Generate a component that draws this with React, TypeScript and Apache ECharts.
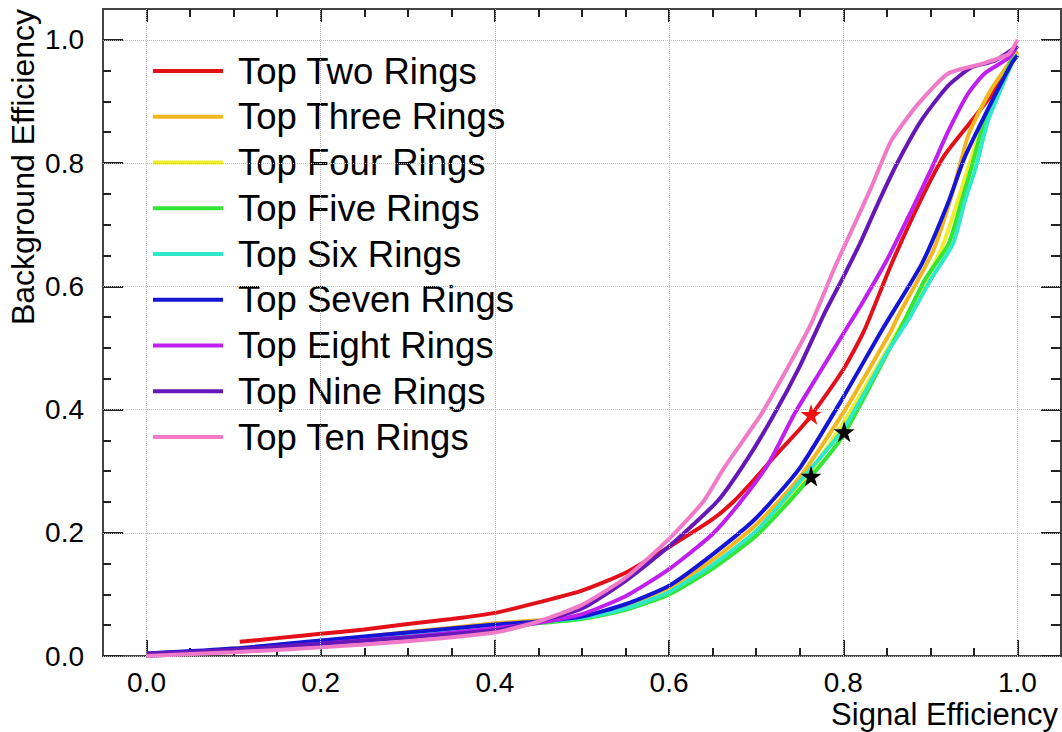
import React, { useEffect, useRef } from "react";
import * as echarts from "echarts";

const seriesNames = [
  "Top Two Rings",
  "Top Three Rings",
  "Top Four Rings",
  "Top Five Rings",
  "Top Six Rings",
  "Top Seven Rings",
  "Top Eight Rings",
  "Top Nine Rings",
  "Top Ten Rings",
];

const seriesColors = [
  "#e3101a",
  "#f2b61f",
  "#f0ee2a",
  "#34e534",
  "#2ee8c8",
  "#1515d6",
  "#c01ff0",
  "#6617b8",
  "#f07ac8",
];

const topTwo = [
  [0.107, 0.023], [0.15, 0.029], [0.2, 0.036], [0.25, 0.043], [0.3, 0.052], [0.35, 0.06],
  [0.4, 0.07], [0.45, 0.087], [0.5, 0.106], [0.55, 0.135], [0.6, 0.177], [0.65, 0.222],
  [0.675, 0.252], [0.7, 0.29], [0.725, 0.33], [0.75, 0.368], [0.763, 0.39], [0.8, 0.465],
  [0.824, 0.528], [0.855, 0.635], [0.89, 0.743], [0.916, 0.812], [0.947, 0.868], [0.97, 0.91],
  [0.985, 0.95], [1.0, 0.98],
];
const topThree = [
  [0, 0], [0.05, 0.006], [0.1, 0.012], [0.2, 0.024], [0.3, 0.039], [0.35, 0.046], [0.4, 0.053],
  [0.45, 0.058], [0.5, 0.064], [0.55, 0.08], [0.6, 0.11], [0.65, 0.156], [0.7, 0.213],
  [0.75, 0.29], [0.8, 0.395], [0.855, 0.528], [0.862, 0.549], [0.903, 0.657], [0.925, 0.75],
  [0.944, 0.847], [0.97, 0.92], [1.0, 0.98],
];
const topFour = [
  [0, 0], [0.1, 0.011], [0.2, 0.022], [0.3, 0.036], [0.4, 0.05], [0.5, 0.062], [0.55, 0.077],
  [0.6, 0.104], [0.65, 0.146], [0.7, 0.2], [0.75, 0.275], [0.8, 0.378], [0.863, 0.528],
  [0.913, 0.662], [0.951, 0.825], [0.975, 0.91], [1.0, 0.978],
];
const topFive = [
  [0, 0], [0.1, 0.01], [0.2, 0.021], [0.3, 0.034], [0.4, 0.047], [0.5, 0.06], [0.55, 0.075],
  [0.6, 0.1], [0.65, 0.142], [0.7, 0.195], [0.75, 0.27], [0.8, 0.358], [0.85, 0.49],
  [0.872, 0.549], [0.893, 0.609], [0.921, 0.669], [0.936, 0.739], [0.947, 0.792],
  [0.962, 0.868], [0.978, 0.917], [0.993, 0.966], [1.0, 0.975],
];
const topSix = [
  [0, 0], [0.1, 0.011], [0.2, 0.022], [0.3, 0.035], [0.4, 0.049], [0.5, 0.062], [0.55, 0.077],
  [0.6, 0.104], [0.65, 0.148], [0.7, 0.203], [0.75, 0.283], [0.8, 0.368], [0.85, 0.492],
  [0.876, 0.549], [0.9, 0.61], [0.926, 0.669], [0.94, 0.74], [0.952, 0.792], [0.966, 0.868],
  [0.98, 0.917], [0.995, 0.966], [1.0, 0.975],
];
const topSeven = [
  [0, 0.004], [0.1, 0.012], [0.2, 0.025], [0.3, 0.038], [0.4, 0.051], [0.45, 0.056],
  [0.5, 0.064], [0.55, 0.084], [0.6, 0.114], [0.65, 0.165], [0.7, 0.224], [0.75, 0.305],
  [0.8, 0.42], [0.844, 0.528], [0.89, 0.636], [0.92, 0.734], [0.939, 0.808], [0.967, 0.89],
  [0.993, 0.961], [1.0, 0.975],
];
const topEight = [
  [0, 0], [0.1, 0.009], [0.2, 0.02], [0.3, 0.031], [0.4, 0.045], [0.45, 0.054], [0.5, 0.068],
  [0.55, 0.097], [0.6, 0.141], [0.65, 0.198], [0.683, 0.252], [0.714, 0.312], [0.744, 0.393],
  [0.775, 0.465], [0.8, 0.523], [0.821, 0.571], [0.851, 0.645], [0.878, 0.722], [0.901, 0.79],
  [0.92, 0.85], [0.943, 0.912], [0.962, 0.945], [0.99, 0.971], [1.0, 0.99],
];
const topNine = [
  [0, 0.004], [0.1, 0.01], [0.2, 0.02], [0.3, 0.03], [0.4, 0.042], [0.45, 0.056], [0.5, 0.077],
  [0.55, 0.122], [0.6, 0.178], [0.656, 0.252], [0.69, 0.32], [0.721, 0.393], [0.75, 0.47],
  [0.778, 0.555], [0.8, 0.615], [0.821, 0.675], [0.84, 0.735], [0.862, 0.8], [0.89, 0.87],
  [0.92, 0.925], [0.947, 0.955], [0.974, 0.966], [1.0, 0.99],
];
const topTen = [
  [0, 0], [0.1, 0.006], [0.2, 0.014], [0.3, 0.024], [0.4, 0.038], [0.45, 0.056], [0.5, 0.083],
  [0.55, 0.127], [0.6, 0.19], [0.64, 0.252], [0.663, 0.305], [0.706, 0.393], [0.735, 0.465],
  [0.763, 0.539], [0.79, 0.63], [0.813, 0.701], [0.832, 0.76], [0.855, 0.836], [0.886, 0.896],
  [0.92, 0.945], [0.959, 0.961], [0.99, 0.977], [1.0, 1.0],
];

const seriesData = [topTwo, topThree, topFour, topFive, topSix, topSeven, topEight, topNine, topTen];

const majorTicks = [0, 0.2, 0.4, 0.6, 0.8, 1.0];

const redStar = [[0.763, 0.392]];
const blackStars = [[0.801, 0.364], [0.763, 0.292]];

const xTitle = "Signal Efficiency";
const yTitle = "Background Efficiency";

const FONT = "'Liberation Sans', Arial, Helvetica, sans-serif";
const STAR = "path://M50,0 L61,35 L98,35 L68,57 L79,91 L50,70 L21,91 L32,57 L2,35 L39,35 Z";

const X_MIN = -0.05, X_MAX = 1.05, Y_MIN = 0, Y_MAX = 1.05;

export default function App() {
  const ref = useRef<HTMLDivElement>(null);

  useEffect(() => {
    if (!ref.current) return;
    const chart = echarts.init(ref.current, null, { renderer: "svg" });

    const W = 1062, H = 732;
    const g0 = { left: 103, right: 1, top: 9, bottom: 76 };
    const gw = W - g0.left - g0.right;
    const gh = H - g0.top - g0.bottom;
    const pxX = gw / (X_MAX - X_MIN);
    const pxY = gh / (Y_MAX - Y_MIN);
    const x0 = g0.left - X_MIN * pxX;
    const x1 = x0 + pxX;
    const y1 = H - g0.bottom - pxY;
    // helper grid spanning exactly 0..1 on both axes (ticks and labels)
    const g1 = { left: x0, right: W - x1, top: y1, bottom: g0.bottom };

    const tickStyle = { color: "#222", width: 2 };
    const frameLine = { show: true, onZero: false, lineStyle: { color: "#444", width: 2 } };

    const lineSeries = seriesNames.map((name, i) => ({
      name,
      type: "line",
      xAxisIndex: 0,
      yAxisIndex: 0,
      data: seriesData[i],
      showSymbol: false,
      symbol: "none",
      smooth: 0.2,
      lineStyle: { color: seriesColors[i], width: 4 },
      itemStyle: { color: seriesColors[i] },
      z: 3,
    }));

    const fmt = (v: number) => v.toFixed(1);

    chart.setOption({
      animation: false,
      backgroundColor: "#fff",
      textStyle: { fontFamily: FONT },
      grid: [
        { ...g0, show: true, borderColor: "#444", borderWidth: 2, backgroundColor: "transparent", containLabel: false },
        { ...g1, show: false, containLabel: false },
      ],
      xAxis: [
        {
          type: "value", gridIndex: 0, min: X_MIN, max: X_MAX, show: false,
          axisLine: { show: false, onZero: false },
        },
        {
          type: "value", gridIndex: 1, min: 0, max: 1, interval: 0.2, position: "bottom",
          axisLine: frameLine,
          axisTick: { show: true, inside: true, length: 16, lineStyle: tickStyle },
          minorTick: { show: true, splitNumber: 4, length: 8, lineStyle: tickStyle },
          splitLine: { show: false },
          axisLabel: { show: true, fontSize: 28, color: "#000", margin: 12, fontFamily: FONT, formatter: fmt },
        },
        {
          type: "value", gridIndex: 1, min: 0, max: 1, interval: 0.2, position: "top",
          offset: y1 - g0.top,
          axisLine: frameLine,
          axisTick: { show: true, inside: true, length: 13, lineStyle: tickStyle },
          minorTick: { show: true, splitNumber: 4, length: 8, lineStyle: tickStyle },
          splitLine: { show: false },
          axisLabel: { show: false },
        },
      ],
      yAxis: [
        {
          type: "value", gridIndex: 0, min: Y_MIN, max: Y_MAX, show: false,
          axisLine: { show: false, onZero: false },
        },
        {
          type: "value", gridIndex: 1, min: 0, max: 1, interval: 0.2, position: "left",
          offset: x0 - g0.left,
          axisLine: frameLine,
          axisTick: { show: true, inside: true, length: 20, lineStyle: tickStyle },
          minorTick: { show: true, splitNumber: 4, length: 8, lineStyle: tickStyle },
          splitLine: { show: false },
          axisLabel: { show: true, fontSize: 28, color: "#000", margin: 19, fontFamily: FONT, formatter: fmt },
        },
        {
          type: "value", gridIndex: 1, min: 0, max: 1, interval: 0.2, position: "right",
          offset: (W - g0.right) - x1,
          axisLine: frameLine,
          axisTick: { show: true, inside: true, length: 20, lineStyle: tickStyle },
          minorTick: { show: true, splitNumber: 4, length: 10, lineStyle: tickStyle },
          splitLine: { show: false },
          axisLabel: { show: false },
        },
      ],
      legend: {
        show: true,
        orient: "vertical",
        left: 153,
        top: 51,
        padding: 0,
        itemWidth: 70,
        itemHeight: 4,
        itemGap: 5.75,
        icon: "rect",
        data: seriesNames,
        textStyle: { fontSize: 36.5, color: "#000", fontFamily: FONT, lineHeight: 40, padding: [0, 0, 0, 10] },
      },
      graphic: [
        {
          type: "text",
          x: 1058,
          y: 714,
          style: { text: xTitle, font: `31px ${FONT}`, fill: "#000", align: "right", verticalAlign: "middle" },
        },
        {
          type: "text",
          x: 23,
          y: 9,
          rotation: Math.PI / 2,
          style: { text: yTitle, font: `32px ${FONT}`, fill: "#000", align: "right", verticalAlign: "middle" },
        },
      ],
      series: [
        {
          name: "grid",
          type: "line",
          xAxisIndex: 0,
          yAxisIndex: 0,
          data: [],
          silent: true,
          z: 1,
          markLine: {
            silent: true,
            symbol: ["none", "none"],
            label: { show: false },
            lineStyle: { type: "dotted", color: "#bdbdbd", width: 1 },
            data: [
              ...majorTicks.map((v) => ({ xAxis: v })),
              ...majorTicks.map((v) => ({ yAxis: v })),
            ],
          },
        },
        ...lineSeries,
        {
          name: "redStar",
          type: "scatter",
          xAxisIndex: 0,
          yAxisIndex: 0,
          data: redStar,
          symbol: STAR,
          symbolSize: 21,
          itemStyle: { color: "#f01010", opacity: 1 },
          z: 5,
        },
        {
          name: "blackStars",
          type: "scatter",
          xAxisIndex: 0,
          yAxisIndex: 0,
          data: blackStars,
          symbol: STAR,
          symbolSize: 21,
          itemStyle: { color: "#000", opacity: 1 },
          z: 5,
        },
      ],
    });

    return () => chart.dispose();
  }, []);

  return (
    <div
      ref={ref}
      style={{ position: "fixed", left: 0, top: 0, width: 1062, height: 732, background: "#fff" }}
    />
  );
}
